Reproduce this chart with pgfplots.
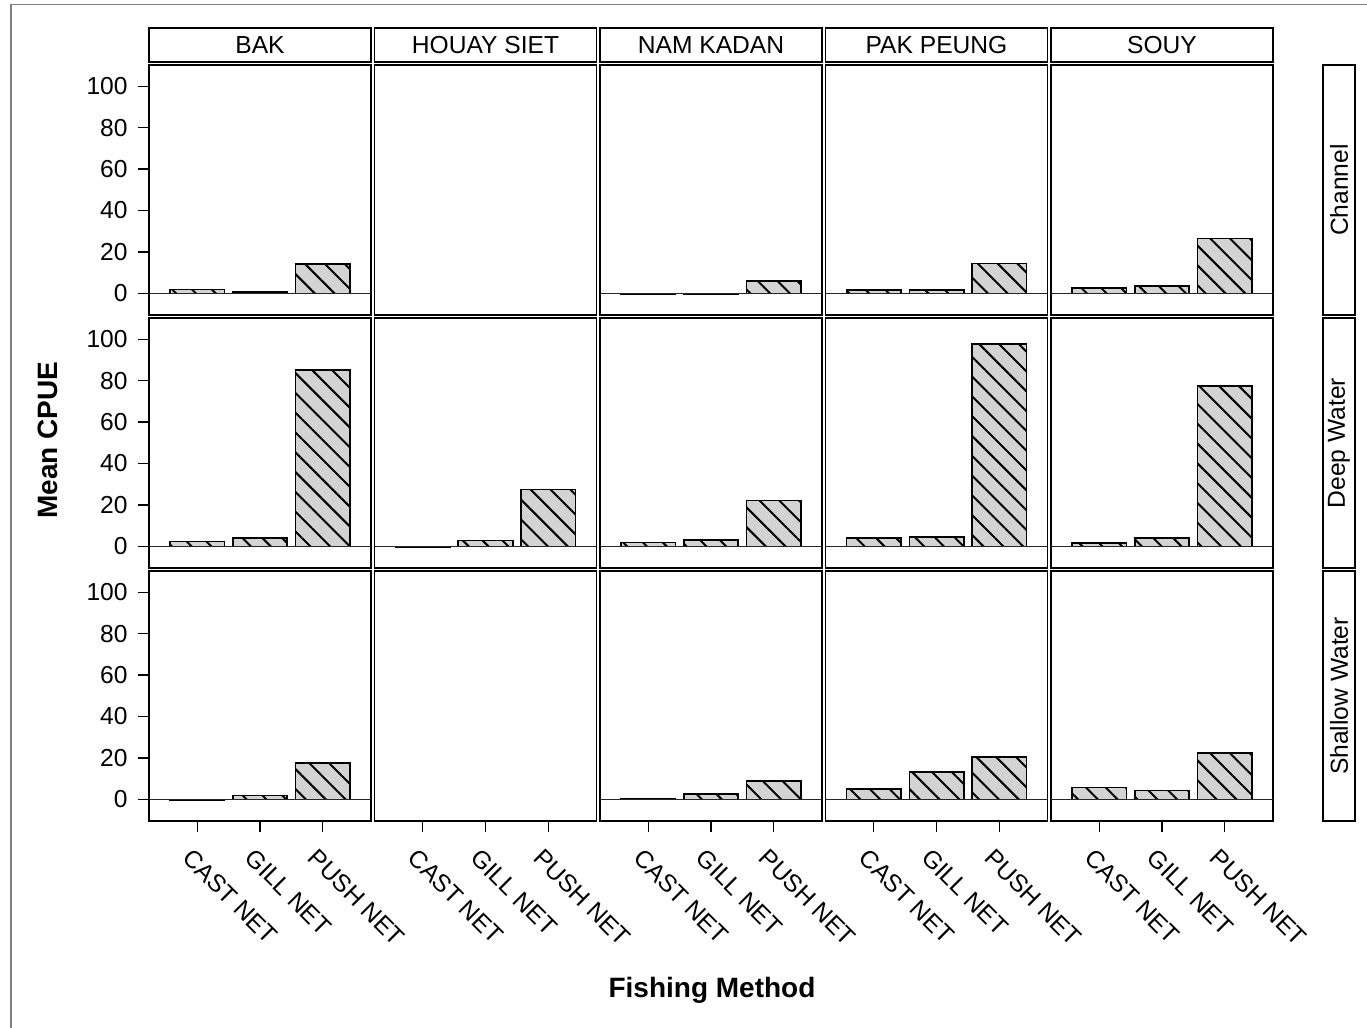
\documentclass[border=0pt]{standalone}
\usepackage{pgfplots}
\pgfplotsset{compat=1.18}
\usetikzlibrary{patterns.meta}
\usepackage{fontspec}
\setmainfont{Liberation Sans}

\definecolor{barfill}{RGB}{211,211,211}
\definecolor{framegray}{RGB}{128,128,128}

\tikzset{
  zeroline/.style={black!85, line width=0.8pt},
  hatchbar/.style={draw=black, line width=0.85pt, fill=barfill,
    postaction={pattern={Lines[angle=-45,distance=7pt,line width=1pt]},
                pattern color=black}},
}

\pgfplotsset{
  panel/.style={
    scale only axis, width=111pt, height=125pt,
    anchor=south west,
    xmin=-0.77, xmax=2.77, ymin=-10.4, ymax=110.2,
    axis line style={line width=0.75pt},
    tick align=outside, major tick length=5.5pt,
    tick style={black, line width=0.6pt},
    xtick=\empty, ytick=\empty,
    xtick pos=lower, ytick pos=left,
    ticklabel style={font=\fontsize{12.3}{14}\selectfont},
    /pgf/number format/assume math mode=true,
    ybar, bar width=0.866, bar shift=0pt,
  },
  leftcol/.style={ytick={0,20,...,100},
    yticklabel style={inner sep=0pt, xshift=-5pt}},
  bottomrow/.style={xtick={0,1,2},
    xticklabels={CAST NET, GILL NET, PUSH NET},
    xticklabel style={xshift=-2pt, yshift=-7.4pt, rotate=-45,
      anchor=north west, inner sep=0pt}},
}

% one facet: x, y of its lower left corner, axis options, bar heights
\newcommand\panel[4]{%
  \begin{axis}[panel, at={(#1,#2)}, #3]
    \addplot[hatchbar] coordinates {#4};
    \draw[zeroline] (axis cs:-0.77,0) -- (axis cs:2.77,0);
  \end{axis}}
% a facet with no observations
\newcommand\emptypanel[3]{%
  \begin{axis}[panel, at={(#1,#2)}, #3]
  \end{axis}}

\begin{document}
\begin{tikzpicture}
\useasboundingbox (0,0) rectangle (683.5pt,514pt);
% outer frame
\draw[framegray, line width=0.75pt] (5.5pt,0pt) -- (5.5pt,511.8pt) -- (683.5pt,511.8pt);

% ---- Channel ----
\panel{74.5pt}{356.5pt}{leftcol}{(0,1.9) (1,0.8) (2,14.1)}
\emptypanel{187.25pt}{356.5pt}{}
\panel{300pt}{356.5pt}{}{(0,-0.3) (1,-0.3) (2,5.9)}
\panel{412.75pt}{356.5pt}{}{(0,1.6) (1,1.6) (2,14.5)}
\panel{525.5pt}{356.5pt}{}{(0,2.7) (1,3.6) (2,26.5)}

% ---- Deep Water ----
\panel{74.5pt}{230pt}{leftcol}{(0,2.4) (1,4.1) (2,85.1)}
\panel{187.25pt}{230pt}{}{(0,-0.5) (1,2.9) (2,27.5)}
\panel{300pt}{230pt}{}{(0,1.9) (1,3.2) (2,22.2)}
\panel{412.75pt}{230pt}{}{(0,4.0) (1,4.6) (2,97.6)}
\panel{525.5pt}{230pt}{}{(0,1.7) (1,4.1) (2,77.4)}

% ---- Shallow Water ----
\panel{74.5pt}{103.5pt}{leftcol,bottomrow}{(0,-0.3) (1,1.9) (2,17.5)}
\emptypanel{187.25pt}{103.5pt}{bottomrow}
\panel{300pt}{103.5pt}{bottomrow}{(0,0.5) (1,2.7) (2,8.8)}
\panel{412.75pt}{103.5pt}{bottomrow}{(0,4.9) (1,13.3) (2,20.5)}
\panel{525.5pt}{103.5pt}{bottomrow}{(0,5.7) (1,4.3) (2,22.4)}

% column strips
\begin{scope}[line width=0.75pt, font=\fontsize{12.3}{14}\selectfont]
\foreach \x/\name in {74.5/BAK, 187.25/HOUAY SIET, 300/NAM KADAN, 412.75/PAK PEUNG, 525.5/SOUY}{
  \draw[fill=white] (\x pt,483pt) rectangle ++(111pt,17pt);
  \node at (\x pt+55.5pt,491.5pt) {\name};
}
% row strips
\foreach \y/\name in {356.5/Channel, 230/Deep Water, 103.5/Shallow Water}{
  \draw[fill=white] (661.5pt,\y pt) rectangle ++(16pt,125pt);
  \node[rotate=90] at (669.5pt,\y pt+62.5pt) {\name};
}
\end{scope}

% axis titles
\node[rotate=90, font=\fontsize{14}{16}\selectfont\bfseries] at (24pt,294pt) {Mean CPUE};
\node[font=\fontsize{14}{16}\selectfont\bfseries] at (356pt,19pt) {Fishing Method};
\end{tikzpicture}
\end{document}
